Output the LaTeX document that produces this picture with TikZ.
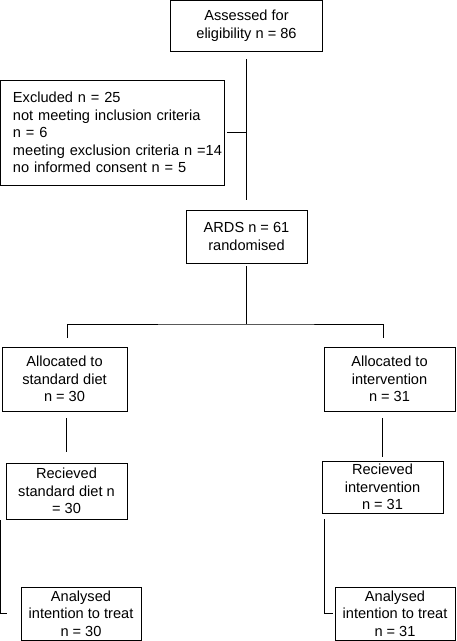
\documentclass[tikz,border=0pt]{standalone}
\usepackage{fontspec}
\setmainfont{Liberation Sans}
\usetikzlibrary{positioning}

\begin{document}
\begin{tikzpicture}[x=1pt,y=-1pt,
        box/.style={draw, line width=0.9pt, inner sep=0pt, align=center,
            font=\fontsize{14.6}{17.6}\selectfont},
        conn/.style={draw, line width=0.9pt}]
        \useasboundingbox (0,0) rectangle (456,641);

        \node[box, minimum width=152pt, minimum height=51pt] at (246.5,25.5)(assess){Assessed for\\eligibility n = 86};
        \node[box, minimum height=105pt, text width=224pt, align=left] at (112,132.5)(excl){\leftskip=13pt Excluded n = 25\\not meeting inclusion criteria\\n = 6\\meeting exclusion criteria n =14\\no informed consent n = 5\par};
        \node[box, minimum width=121pt, minimum height=53pt] at (246.5,236.5)(ards){ARDS n = 61\\randomised};
        \node[box, minimum width=125pt, minimum height=64pt] at (64.5,379)(allocL){Allocated to\\standard diet\\n = 30};
        \node[box, minimum width=131pt, minimum height=64pt] at (389.5,379)(allocR){Allocated to\\intervention\\n = 31};
        \node[box, minimum width=121pt, minimum height=56pt] at (66.5,491)(recvL){Recieved\\standard diet n\\= 30};
        \node[box, minimum width=121pt, minimum height=52pt] at (382.5,487)(recvR){Recieved\\intervention\\n = 31};
        \node[box, minimum width=120pt, minimum height=53pt] at (81,613.5)(anaL){Analysed\\intention to treat\\n = 30};
        \node[box, minimum width=120pt, minimum height=53pt] at (395,613.5)(anaR){Analysed\\intention to treat\\n = 31};

        \coordinate (split) at (246.5,324);
        \coordinate (dropL) at (67,338);
        \coordinate (dropR) at (383,338);

        \path[conn]
        (assess)edge [shorten <=8pt, shorten >=10pt] (ards)
        (excl)edge [shorten <=3pt] (excl -| assess)
        (ards)edge [shorten <=3pt] (split)
        ;
        \draw[conn] (dropL) |- (split) -| (dropR);
        \draw[conn, shorten <=7pt, shorten >=11pt] (recvL.north |- allocL.south) -- (recvL.north);
        \draw[conn, shorten <=7pt, shorten >=4pt] (recvR.north |- allocR.south) -- (recvR.north);
        \draw[conn] ([xshift=-5pt,yshift=-1pt]recvL.south west) |- ([xshift=-14pt]anaL.west);
        \draw[conn] ([xshift=3pt,yshift=-6pt]recvR.south west) |- ([xshift=-2pt]anaR.west);
    \end{tikzpicture}
\end{document}
